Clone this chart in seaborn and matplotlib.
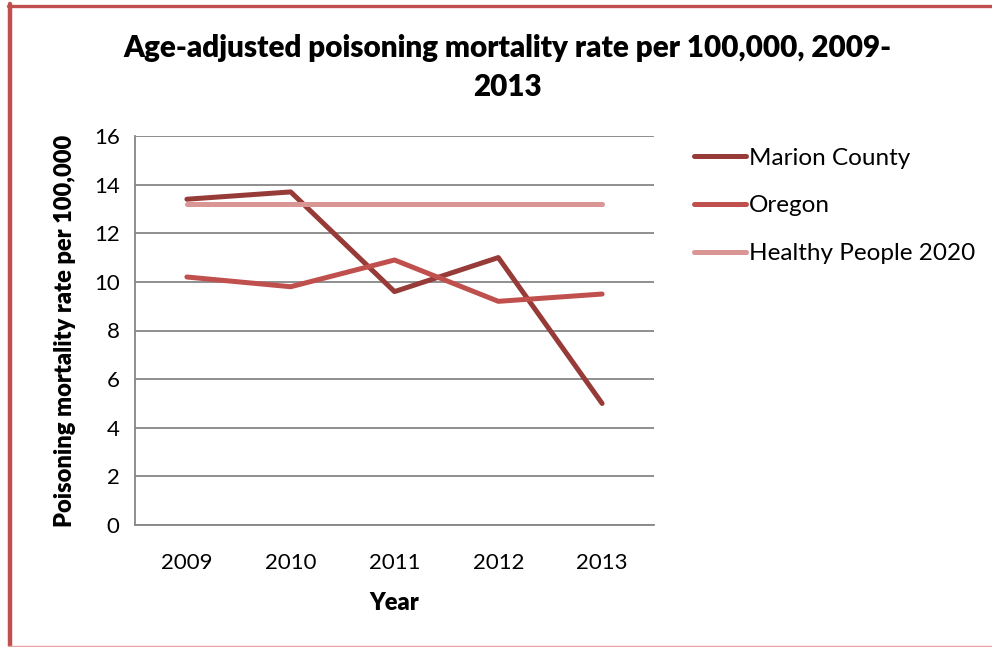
import matplotlib
matplotlib.use("Agg")
import matplotlib.pyplot as plt
import seaborn as sns
import pandas as pd
import numpy as np
from matplotlib.lines import Line2D

years = ["2009", "2010", "2011", "2012", "2013"]
marion = [13.4, 13.7, 9.6, 11.0, 5.0]
oregon = [10.2, 9.8, 10.9, 9.2, 9.5]
healthy_people = [13.2, 13.2, 13.2, 13.2, 13.2]
series_names = ["Marion County", "Oregon", "Healthy People 2020"]
colors = ["#963B38", "#C0504D", "#D99694"]
y_ticks = [0, 2, 4, 6, 8, 10, 12, 14, 16]

sns.set_style("white")
plt.rcParams['font.family'] = ['Lato', 'DejaVu Sans']
plt.rcParams['text.color'] = 'black'
plt.rcParams['axes.labelcolor'] = 'black'
plt.rcParams['xtick.labelcolor'] = 'black'
plt.rcParams['ytick.labelcolor'] = 'black'

df = pd.DataFrame({
    "Year": years * 3,
    "Rate": marion + oregon + healthy_people,
    "Series": [series_names[0]] * 5 + [series_names[1]] * 5 + [series_names[2]] * 5,
})

fig = plt.figure(figsize=(9.92, 6.47), dpi=100)
ax = fig.add_axes([135/992, 1 - 525/647, (654-135)/992, (525-136)/647])

sns.lineplot(data=df, x="Year", y="Rate", hue="Series", palette=colors,
             hue_order=series_names, linewidth=3.6, ax=ax, legend=False,
             solid_capstyle="round", sort=False)

ax.set_xlim(-0.5, 4.5)
ax.set_ylim(0, 16)
ax.set_yticks(y_ticks)
ax.set_yticklabels([str(v) for v in y_ticks], fontsize=16)
ax.set_xticks(range(5))
ax.set_xticklabels(years, fontsize=16)
ax.set_xticks(np.arange(-0.5, 5.0, 1.0), minor=True)
ax.tick_params(axis="x", which="major", length=0, pad=20)
ax.tick_params(axis="x", which="minor", length=6, width=1.3, color="#868686")
ax.tick_params(axis="y", which="major", length=6, width=1.3, color="#868686", pad=5)
ax.grid(axis="y", color="#868686", linewidth=1.3)
ax.set_axisbelow(True)
for s in ["top", "right"]:
    ax.spines[s].set_visible(False)
for s in ["left", "bottom"]:
    ax.spines[s].set_color("#868686")
    ax.spines[s].set_linewidth(1.3)

ax.set_xlabel("Year", fontsize=17, fontweight="heavy", labelpad=14)
ax.set_ylabel("Poisoning mortality rate per 100,000", fontsize=17, fontweight="heavy", labelpad=13)

fig.suptitle("Age-adjusted poisoning mortality rate per 100,000, 2009-\n2013",
             x=507/992, y=1 - 34/647, fontsize=21.3, fontweight="heavy", linespacing=1.5)

handles = [Line2D([0], [0], color=c, linewidth=3.6, solid_capstyle="round") for c in colors]
fig.legend(handles, series_names, loc="upper left", bbox_to_anchor=(684/992, 1 - 138/647),
           frameon=False, fontsize=17.5, handlelength=2.15, handletextpad=0.12,
           labelspacing=1.1, borderaxespad=0)

# figure border
fig.add_artist(Line2D([10/992, 10/992], [1/647, 1 - 4/647], color="#C0504D", linewidth=3.2,
                      transform=fig.transFigure))
fig.add_artist(Line2D([8/992, 1.0], [1 - 5.5/647, 1 - 5.5/647], color="#C0504D", linewidth=2.4,
                      transform=fig.transFigure))
fig.add_artist(Line2D([8/992, 1.0], [1/647, 1/647], color="#E6A5A3", linewidth=1.0,
                      transform=fig.transFigure))

fig.savefig("out.png", dpi=100)
